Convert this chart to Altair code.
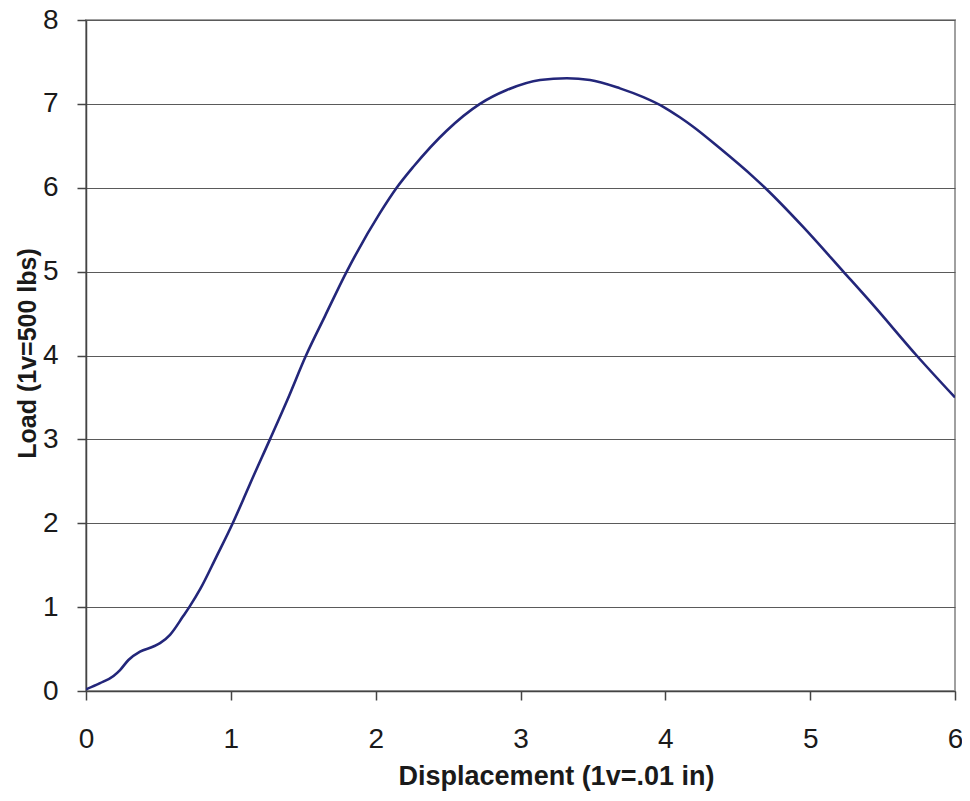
import altair as alt
import pandas as pd

# Displacement (1v = .01 in) and Load (1v = 500 lbs)
displacement = [0.00, 0.097, 0.19, 0.235, 0.293, 0.373, 0.465, 0.511, 0.58, 0.67, 0.713,
                0.79, 0.90, 1.013, 1.09, 1.13, 1.27, 1.39, 1.519, 1.65, 1.80, 2.03,
                2.145, 2.26, 2.49, 2.72, 2.905, 3.135, 3.32, 3.48, 3.687, 3.848,
                3.986, 4.10, 4.19, 4.377, 4.607, 4.688, 4.953, 5.229, 5.436, 5.735, 6.00]
load = [0.02, 0.093, 0.18, 0.25, 0.37, 0.47, 0.53, 0.57, 0.67, 0.89, 1.00,
        1.22, 1.60, 2.00, 2.30, 2.46, 3.00, 3.47, 4.00, 4.47, 5.00, 5.70,
        6.00, 6.25, 6.68, 7.00, 7.165, 7.285, 7.305, 7.285, 7.185, 7.08,
        6.965, 6.84, 6.73, 6.47, 6.13, 6.00, 5.53, 5.00, 4.60, 4.00, 3.50]

x_ticks = [0, 1, 2, 3, 4, 5, 6]
y_ticks = [0, 1, 2, 3, 4, 5, 6, 7, 8]

df = pd.DataFrame({"Displacement": displacement, "Load": load})

line = alt.Chart(df).mark_line(
    color="#23267a", strokeWidth=2.6, interpolate="monotone", clip=True
).encode(
    x=alt.X(
        "Displacement:Q",
        scale=alt.Scale(domain=[0, 6], nice=False, zero=False),
        axis=alt.Axis(
            values=x_ticks,
            title="Displacement (1v=.01 in)",
            grid=False,
            labelPadding=25,
            labelFlush=False,
            titleX=470,
            titleY=93,
            titleAlign="center",
            titleBaseline="alphabetic",
            titleFontSize=27,
        ),
    ),
    y=alt.Y(
        "Load:Q",
        scale=alt.Scale(domain=[0, 8], nice=False),
        axis=alt.Axis(
            values=y_ticks,
            title="Load (1v=500 lbs)",
            grid=True,
            labelPadding=19,
            labelFlush=False,
            titleX=-51,
            titleY=333,
            titleAngle=270,
            titleAlign="center",
            titleBaseline="alphabetic",
            titleFontSize=25,
        ),
    ),
)

chart = line.properties(
    width=869,
    height=671,
    autosize=alt.AutoSizeParams(type="none"),
    padding={"left": 78, "top": 12, "right": 7, "bottom": 102},
    background="white",
).configure_view(
    stroke="#a0a0a0", strokeWidth=2
).configure_axis(
    labelFont="Liberation Sans",
    labelFontSize=28,
    labelColor="#1a1a1a",
    titleFont="Liberation Sans",
    titleFontWeight="bold",
    titleColor="#1a1a1a",
    domainColor="#444444",
    domainWidth=1.5,
    tickColor="#444444",
    tickWidth=1.5,
    tickSize=9,
    gridColor="#5a5a5a",
    gridWidth=1,
    gridOpacity=1,
)

chart.save("out.html", embed_options={"renderer": "svg", "actions": False})
